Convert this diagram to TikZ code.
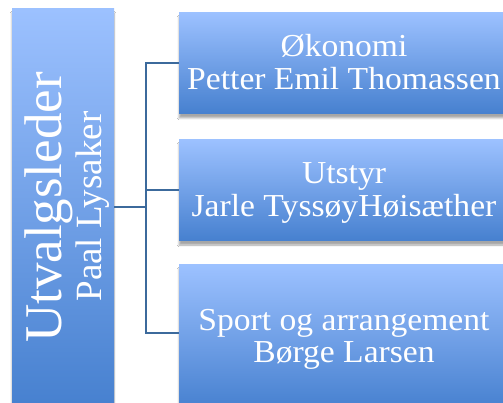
\documentclass[tikz,border=0pt]{standalone}
\usepackage{fontspec}
\setmainfont{Liberation Serif}
\newfontfamily\widefont[FakeStretch=1.05]{Liberation Serif}
\usetikzlibrary{shadows.blur}
\definecolor{topblue}{HTML}{9CC1FF}
\definecolor{botblue}{HTML}{4680CF}
\definecolor{linkblue}{HTML}{3C6A9C}
\tikzset{
  box/.style={top color=topblue, bottom color=botblue, draw=none,
    blur shadow={shadow xshift=0pt, shadow yshift=-4pt, shadow blur steps=6, shadow opacity=35}},
  lbl/.style={text=white, inner sep=0pt, anchor=base, font=\widefont\fontsize{32}{33}\selectfont},
  link/.style={draw=linkblue, line width=1.3pt}
}
\begin{document}
\begin{tikzpicture}[x=1pt,y=-1pt]
\useasboundingbox (0,0) rectangle (503,403);
\fill[white] (0,0) rectangle (503,403);
\path[box] (12,9) rectangle (114,410);
\path[box] (179,13) rectangle (510,114);
\path[box] (179,140) rectangle (510,241);
\path[box] (179,265) rectangle (510,410);
\node[coordinate] (lb) at (114,207) {};
\node[coordinate] (b1) at (179,63) {};
\node[coordinate] (b2) at (179,190) {};
\node[coordinate] (b3) at (179,333) {};
\coordinate (j0) at (146,207);
\coordinate (j1) at (146,63);
\coordinate (j2) at (146,190);
\coordinate (j3) at (146,333);
\draw[link] (lb) -- (j0);
\draw[link] (b1) -- (j1) -- (j3) -- (b3);
\draw[link] (j2) -- (b2);
\node[lbl, rotate=90, font=\fontsize{53}{55}\selectfont] (t0) at (61,207.5) {Utvalgsleder};
\node[lbl, rotate=90, font=\fontsize{37}{40}\selectfont] (t0b) at (101,206.5) {Paal Lysaker};
\node[lbl] (t1a) at (344,57) {Økonomi};
\node[lbl] (t1b) at (344,90) {Petter Emil Thomassen};
\node[lbl] (t2a) at (344,184) {Utstyr};
\node[lbl] (t2b) at (344,217) {Jarle TyssøyHøisæther};
\node[lbl] (t3a) at (344,330) {Sport og arrangement};
\node[lbl] (t3b) at (344,362) {Børge Larsen};
\end{tikzpicture}
\end{document}
